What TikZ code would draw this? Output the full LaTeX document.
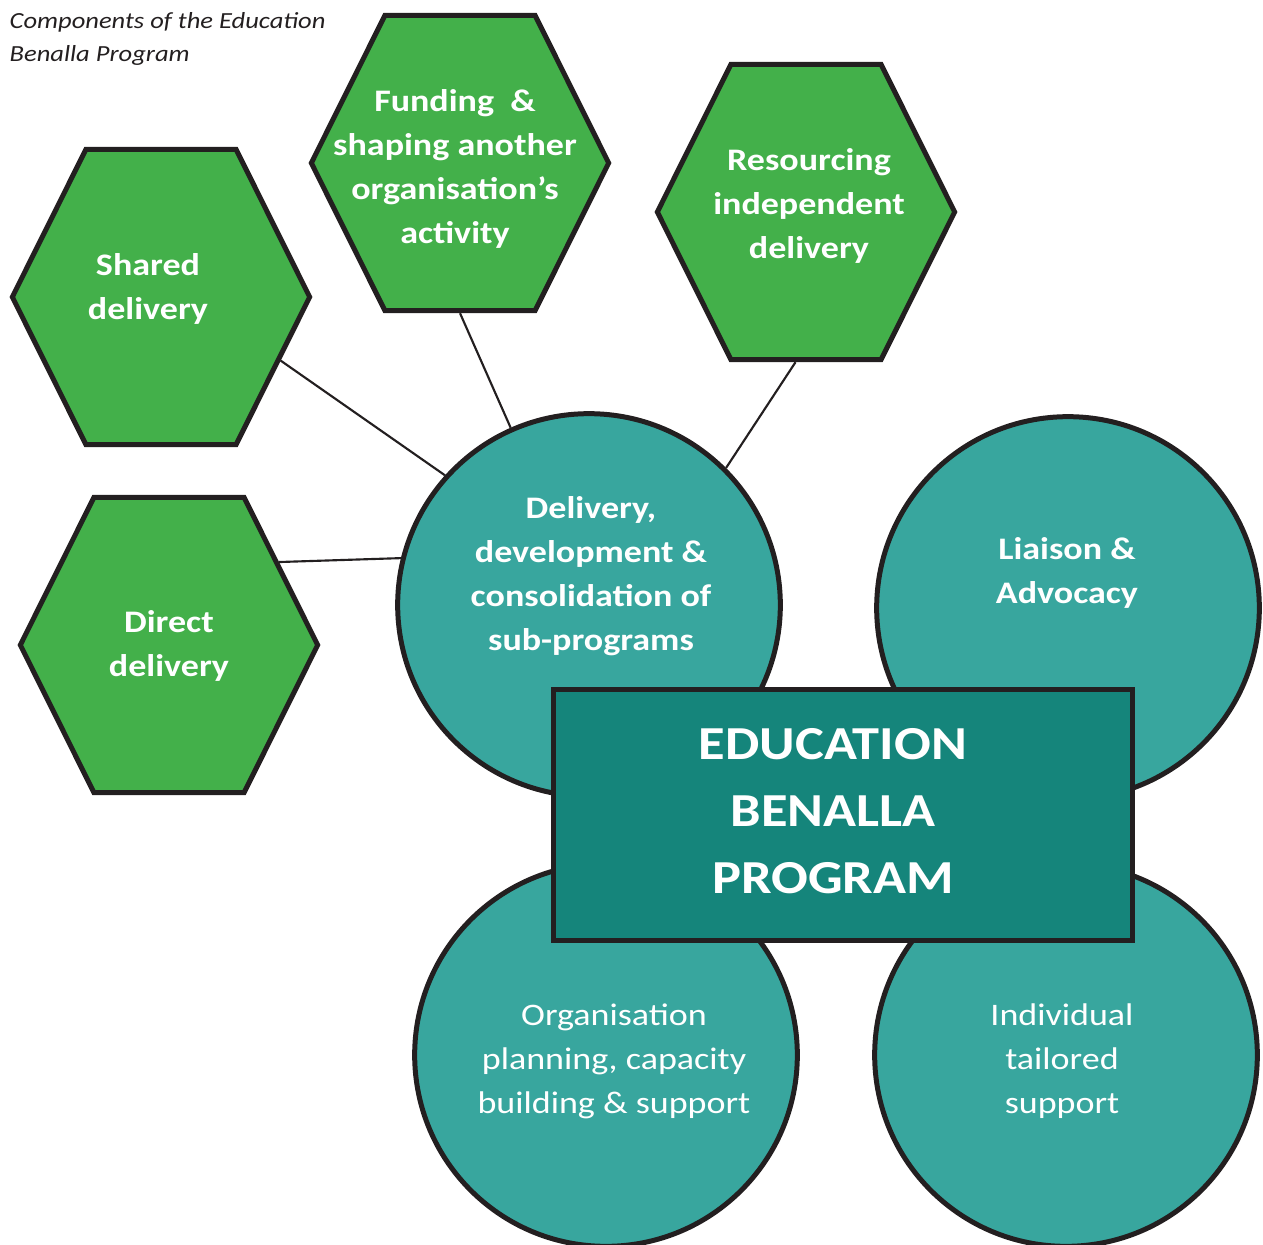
\documentclass[tikz,border=0pt]{standalone}
\usepackage{fontspec}
\setmainfont{Carlito}[FakeStretch=1.15]
\usetikzlibrary{shapes.symbols}

\definecolor{hexgreen}{HTML}{43B04A}
\definecolor{circteal}{HTML}{38A69E}
\definecolor{boxteal}{HTML}{15857B}
\definecolor{edgegray}{HTML}{231F20}

\begin{document}
\begin{tikzpicture}[x=0.75pt,y=-0.75pt,
  hexa/.style={shape=signal, signal to=east and west, signal pointer angle=127,
    draw=edgegray, line width=3.75pt, fill=hexgreen,
    minimum width=223pt, minimum height=221.5pt, inner sep=0pt},
  disc/.style={circle, draw=edgegray, line width=3.75pt, fill=circteal,
    minimum size=287pt, inner sep=0pt},
  lbl/.style={text=white, align=center, font=\fontsize{23.5}{33}\selectfont},
  blbl/.style={lbl, font=\bfseries\fontsize{23.5}{33}\selectfont},
  link/.style={draw=edgegray, line width=1.6pt}]
  \useasboundingbox (0,0) rectangle (1263,1245);

  \node[anchor=base west, align=left, text=edgegray,
    font=\itshape\fontsize{17.3}{24.75}\selectfont] (title) at (5,62)
    {Components of the Education\\Benalla Program};

  % the four ways of delivering
  \node[hexa] (shared) at (161,297) {};
  \node[hexa] (funding) at (460,163) {};
  \node[hexa] (resource) at (806,212) {};
  \node[hexa] (direct) at (169,645) {};

  \node[blbl] at (148,289) {Shared\\delivery};
  \node[blbl] at (455,169) {Funding~~\&\\shaping another\\organisation’s\\activity};
  \node[blbl] at (809,206) {Resourcing\\independent\\delivery};
  \node[blbl] at (169,646) {Direct\\delivery};

  % program components
  \node[disc] (deliv) at (589,605) {};
  \node[disc] (liaison) at (1068,608) {};
  \node[disc] (orgsup) at (606,1055) {};
  \node[disc] (indsup) at (1066,1055) {};

  \node[blbl] at (591,576) {Delivery,\\development \&\\consolidation of\\sub-programs};
  \node[blbl] at (1067,573) {Liaison \&\\Advocacy};
  \node[lbl] at (614,1061) {Organisation\\planning, capacity\\building \& support};
  \node[lbl] at (1062,1061) {Individual\\tailored\\support};

  \node[draw=edgegray, line width=3.75pt, fill=boxteal, minimum width=434pt,
    minimum height=188pt, inner sep=0pt] (prog) at (843,815) {};
  \node[lbl, font=\bfseries\fontsize{35.5}{50}\selectfont] at (833,811)
    {EDUCATION\\BENALLA\\PROGRAM};

  \draw[link] (shared.-28) -- (deliv.138);
  \draw[link] (funding.south) -- (deliv);
  \draw[link] (resource.-94) -- (deliv.45);
  \draw[link] (direct.37) -- (deliv.166);
\end{tikzpicture}
\end{document}
